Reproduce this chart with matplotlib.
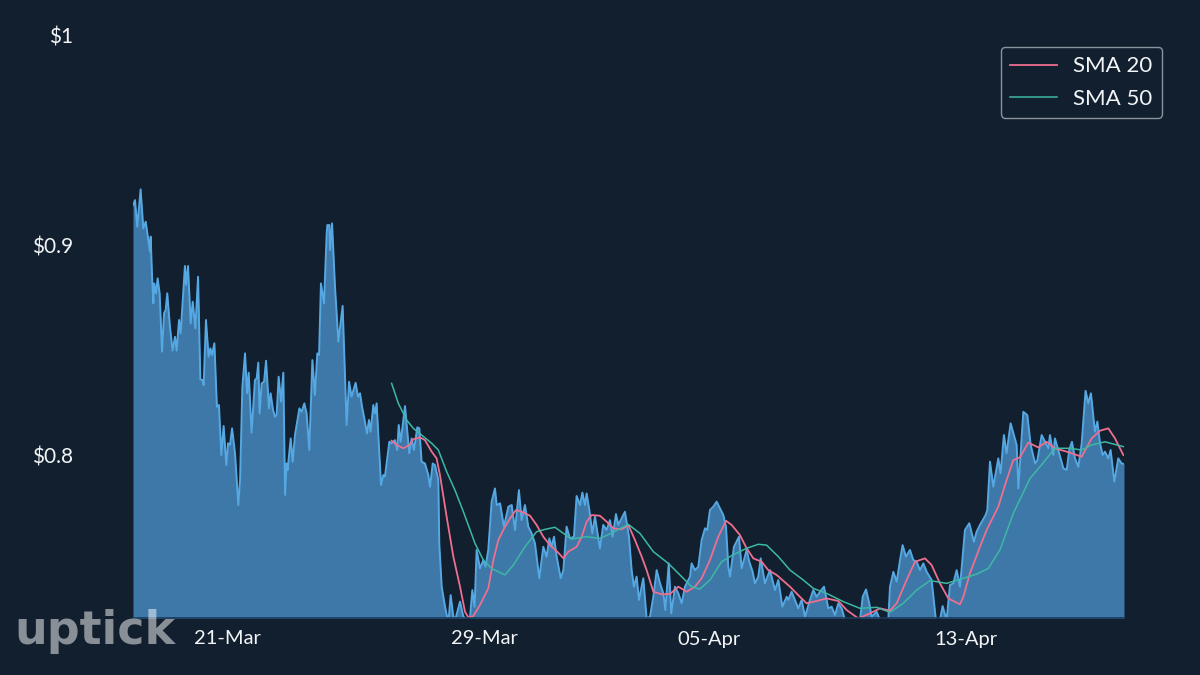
import matplotlib
matplotlib.use("Agg")
import matplotlib.pyplot as plt
import matplotlib.dates as mdates
import numpy as np
import pandas as pd

# Data: hours since the first sample, and price in $
price_hours = [
    0, 1.5, 3.2, 5.7, 7.7, 9.5, 10.7, 12.7, 13.2, 14.2, 15.2, 15.9, 17.2, 18.4, 19.9, 21.7, 23.2, 24.4, 25.6, 27.6,
    29.6, 31.4, 32.6, 34.4, 35.6, 38.8, 39.6, 41.1, 43.1, 44.6, 46.6, 48.6, 50.3, 52.0, 52.8, 54.5, 56.5, 57.8, 59.0, 60.8,
    62.7, 64.2, 66.0, 67.7, 69.7, 71.0, 72.5, 74.0, 76.2, 78.7, 80.0, 81.7, 83.7, 85.2, 86.4, 88.6, 91.1, 92.4, 93.6, 94.6,
    96.1, 97.9, 99.4, 101.6, 102.8, 104.6, 106.1, 107.3, 108.8, 110.6, 112.3, 113.6, 114.8, 115.5, 117.8, 119.3, 121.0, 124.3, 126.0, 128.0,
    129.7, 131.7, 134.0, 135.9, 137.7, 139.0, 140.4, 142.7, 144.7, 145.2, 146.7, 147.2, 148.7, 150.9, 153.4, 156.6, 159.6, 161.4, 163.3, 166.3,
    168.1, 169.6, 171.1, 172.8, 174.8, 176.3, 177.5, 179.5, 180.8, 182.0, 185.3, 187.0, 188.2, 191.5, 193.2, 195.7, 197.4, 198.5, 200.0, 203.2,
    206.4, 208.2, 209.9, 212.4, 213.9, 215.6, 218.1, 220.6, 221.9, 223.9, 225.6, 228.1, 228.8, 230.6, 233.1, 235.6, 237.3, 239.3, 241.0, 244.3,
    246.8, 250.5, 251.7, 253.5, 255.2, 256.7, 259.2, 261.7, 263.4, 265.4, 267.9, 270.4, 271.7, 274.2, 277.1, 280.4, 282.9, 285.4, 288.3, 290.3,
    292.8, 295.3, 297.8, 300.3, 303.5, 306.5, 309.0, 311.0, 312.7, 314.5, 316.5, 319.5, 321.5, 323.9, 326.4, 329.4, 331.4, 333.9, 335.7, 337.6,
    338.9, 340.9, 343.1, 345.1, 348.8, 351.3, 353.8, 356.3, 358.3, 360.8, 362.5, 365.0, 367.5, 370.5, 372.5, 374.2, 376.2, 378.0, 381.2, 383.7,
    386.2, 388.7, 391.2, 393.7, 396.2, 397.7, 400.2, 402.1, 404.9, 407.4, 409.9, 412.3, 416.1, 417.3, 419.8, 422.3, 424.8, 427.3, 429.0, 431.0,
    433.5, 436.0, 438.5, 441.0, 443.0, 444.7, 446.0, 448.9, 452.7, 454.7, 458.4, 460.4, 462.9, 464.6, 467.1, 468.9, 472.1, 475.8, 479.6, 482.1,
    485.1, 488.3, 489.5, 492.0, 494.5, 497.0, 499.5, 502.0, 505.7, 508.2, 510.7, 513.2, 516.2, 519.4, 521.9, 524.4, 526.9, 529.4, 531.9, 543.1,
    545.1, 547.6, 550.0, 551.8, 555.5, 558.0, 564.2, 565.5, 568.0, 570.5, 573.0, 574.9, 577.4, 580.4, 582.9, 585.4, 587.9, 590.4, 592.9, 596.6,
    599.8, 602.8, 604.8, 607.8, 610.3, 612.8, 615.3, 617.8, 621.5, 624.7, 628.2, 630.2, 632.7, 636.9, 638.2, 640.2, 642.7, 646.4, 648.1, 650.6,
    652.6, 655.6, 660.1, 661.4, 665.1, 668.1, 670.6, 673.9, 675.6, 678.8, 681.3, 683.8, 685.0, 687.5, 688.7, 691.2, 695.0, 697.5, 699.4, 701.4,
    703.7, 706.2, 708.7, 711.6, 713.6, 715.6, 718.6, 720.4, 722.4, 724.4, 726.1, 728.6, 730.3, 733.1, 736.0, 738.5, 740.3,
]
price_values = [
    .9190, .9214, .9087, .9265, .9079, .9111, .9056, .8968, .9040, .8857, .8722, .8817, .8770, .8841, .8770, .8492, .8675, .8690, .8770, .8611,
    .8497, .8563, .8497, .8643, .8579, .8900, .8810, .8900, .8627, .8730, .8603, .8849, .8360, .8357, .8333, .8643, .8468, .8508, .8476, .8532,
    .8230, .8238, .8000, .8138, .7952, .8056, .8048, .8127, .8008, .7762, .7881, .8325, .8484, .8294, .8392, .8106, .8357, .8365, .8440, .8198,
    .8341, .8349, .8449, .8222, .8294, .8214, .8183, .8190, .8373, .8254, .8392, .7810, .7960, .7929, .8079, .7968, .8095, .8222, .8206, .8246,
    .8198, .8024, .8452, .8286, .8484, .8476, .8817, .8722, .9056, .9095, .9095, .8976, .9103, .8802, .8540, .8710, .8143, .8349, .8278, .8344,
    .8278, .8294, .8230, .8175, .8103, .8167, .8111, .8238, .8198, .8246, .7857, .7905, .7897, .8063, .8056, .8071, .8024, .8143, .8063, .8233,
    .8008, .8079, .8024, .8132, .8127, .7968, .7960, .7905, .7849, .7960, .7952, .7881, .7579, .7373, .7278, .7200, .7333, .7230, .7222, .7302,
    .7230, .7214, .7222, .7357, .7278, .7548, .7460, .7500, .7468, .7548, .7778, .7841, .7762, .7770, .7659, .7754, .7762, .7643, .7833, .7690,
    .7762, .7659, .7627, .7579, .7413, .7563, .7516, .7603, .7563, .7611, .7516, .7413, .7452, .7659, .7603, .7611, .7805, .7762, .7821, .7762,
    .7817, .7738, .7627, .7706, .7556, .7667, .7643, .7690, .7611, .7719, .7667, .7698, .7730, .7611, .7452, .7373, .7421, .7310, .7413, .7222,
    .7230, .7325, .7452, .7389, .7341, .7262, .7484, .7246, .7373, .7341, .7294, .7373, .7421, .7484, .7452, .7468, .7595, .7651, .7643, .7738,
    .7754, .7778, .7746, .7714, .7659, .7468, .7421, .7563, .7611, .7460, .7548, .7492, .7444, .7389, .7421, .7508, .7389, .7452, .7357, .7405,
    .7278, .7325, .7310, .7349, .7310, .7270, .7310, .7230, .7310, .7357, .7325, .7349, .7373, .7270, .7278, .7238, .7294, .7270, .7214, .7214,
    .7325, .7360, .7294, .7230, .7254, .7214, .7214, .7373, .7444, .7397, .7500, .7571, .7516, .7548, .7500, .7492, .7452, .7484, .7444, .7405,
    .7214, .7214, .7281, .7214, .7381, .7389, .7452, .7373, .7643, .7675, .7587, .7635, .7667, .7714, .7738, .7968, .7849, .7984, .7913, .8095,
    .8008, .8151, .8048, .7841, .8206, .8190, .8048, .7960, .7976, .8095, .8063, .8032, .8095, .8000, .8079, .8024, .7937, .7929, .8024, .8063,
    .7984, .7944, .8056, .8306, .8246, .8294, .8111, .8159, .8056, .8000, .8016, .7984, .8024, .7873, .7984, .7960, .7957,
]

sma20_hours = [
    193.2, 197.0, 201.9, 206.4, 209.4, 214.4, 218.1, 223.1, 226.8, 229.3, 234.3, 239.3, 244.3, 248.0, 250.5, 254.2, 259.2, 265.4, 269.2, 272.9,
    276.6, 281.6, 286.1, 290.3, 296.6, 301.5, 306.5, 311.5, 317.7, 321.5, 325.2, 331.4, 335.2, 338.9, 342.6, 348.8, 353.8, 358.8, 365.0, 370.0,
    375.0, 380.0, 383.7, 388.7, 394.9, 401.1, 407.4, 413.6, 419.8, 424.8, 431.0, 437.2, 443.0, 447.2, 453.4, 458.4, 463.4, 469.6, 474.6, 480.8,
    490.8, 498.2, 503.2, 510.7, 518.2, 526.9, 533.1, 541.8, 550.5, 558.0, 565.5, 570.5, 577.9, 584.2, 591.6, 596.6, 602.8, 609.1, 617.8, 620.3,
    625.2, 632.7, 637.7, 646.4, 652.6, 657.6, 662.6, 668.8, 676.3, 682.5, 688.7, 697.5, 708.7, 716.1, 722.4, 728.6, 733.6, 739.8,
]
sma20_values = [
    .8068, .8048, .8032, .8048, .8075, .8084, .8071, .8016, .7984, .7905, .7706, .7516, .7373, .7254, .7227, .7233, .7286, .7365, .7500, .7595,
    .7643, .7698, .7738, .7730, .7711, .7667, .7611, .7571, .7535, .7508, .7540, .7563, .7611, .7683, .7714, .7711, .7683, .7651, .7646, .7667,
    .7595, .7516, .7452, .7349, .7337, .7338, .7373, .7349, .7373, .7413, .7500, .7611, .7687, .7667, .7619, .7556, .7508, .7492, .7452, .7429,
    .7373, .7325, .7294, .7305, .7317, .7305, .7262, .7222, .7246, .7270, .7259, .7294, .7405, .7492, .7508, .7476, .7389, .7317, .7289, .7325,
    .7437, .7563, .7643, .7754, .7881, .7976, .7989, .8059, .8036, .8063, .8032, .8016, .7992, .8079, .8116, .8127, .8079, .8000,
]

sma50_hours = [
    193.2, 198.2, 204.4, 209.4, 215.6, 223.1, 228.1, 234.3, 240.5, 246.8, 255.5, 261.7, 267.9, 277.9, 284.1, 292.8, 301.5, 307.8, 315.2, 321.5,
    327.7, 338.9, 348.8, 358.8, 370.0, 378.7, 388.7, 399.9, 408.6, 417.3, 423.5, 431.0, 439.7, 447.2, 458.4, 467.1, 473.3, 482.1, 490.8, 500.7,
    508.2, 518.2, 530.6, 543.1, 555.5, 565.5, 575.4, 585.4, 595.4, 607.8, 620.3, 630.2, 638.9, 647.6, 657.6, 670.1, 677.5, 688.7, 699.9, 708.7,
    716.1, 726.1, 739.8,
]
sma50_values = [
    .8341, .8246, .8167, .8127, .8095, .8056, .8024, .7921, .7833, .7730, .7579, .7500, .7460, .7429, .7476, .7563, .7635, .7646, .7656, .7627,
    .7600, .7611, .7603, .7632, .7670, .7627, .7540, .7484, .7429, .7373, .7362, .7405, .7492, .7521, .7556, .7575, .7571, .7516, .7452, .7405,
    .7365, .7341, .7302, .7270, .7275, .7251, .7294, .7357, .7402, .7389, .7413, .7433, .7460, .7548, .7722, .7889, .7944, .8032, .8032, .8024,
    .8048, .8063, .8040,
]

start = pd.Timestamp("2021-03-18 01:48")
tick_dates = ["2021-03-21", "2021-03-29", "2021-04-05", "2021-04-13"]
price_ticks = [0.8, 0.9, 1.0]
price_labels = ["$0.8", "$0.9", "$1"]


def to_dates(hours):
    return start + pd.to_timedelta(np.array(hours), unit="h")


bg = "#121f2e"
plt.rcParams["font.family"] = ["Lato", "DejaVu Sans"]

fig = plt.figure(figsize=(12, 6.75), dpi=100, facecolor=bg)
ax = fig.add_axes([133 / 1200, 1 - 618 / 675, 991 / 1200, 583 / 675], facecolor=bg)

x = to_dates(price_hours)
ax.fill_between(x, price_values, 0.7, color="#3d78a8", linewidth=0)
ax.plot(x, price_values, color="#56a8e2", linewidth=1.4)
ax.plot(to_dates(sma20_hours), sma20_values, color="#ee6f90", linewidth=1.3, label="SMA 20", solid_joinstyle="round")
ax.plot(to_dates(sma50_hours), sma50_values, color="#3db8a4", linewidth=1.1, label="SMA 50", solid_joinstyle="round")

ax.set_xlim(start, to_dates([740.3])[0])
ax.set_ylim(0.7224, 1.0)
ax.set_yticks(price_ticks)
ax.set_yticklabels(price_labels)
ax.set_xticks(pd.to_datetime(tick_dates))
ax.xaxis.set_major_formatter(mdates.DateFormatter("%d-%b"))
ax.tick_params(axis="x", length=0, pad=9, labelsize=14.5, labelcolor="#f2f5f7")
ax.tick_params(axis="y", length=0, pad=43, labelsize=15, labelcolor="#f2f5f7")
for side in ["top", "right", "left"]:
    ax.spines[side].set_visible(False)
ax.spines["bottom"].set_color("#1b3a5a")
ax.spines["bottom"].set_linewidth(1.2)

leg = ax.legend(loc="upper right", bbox_to_anchor=(1029 / 991, 1 - 12 / 583), borderaxespad=0,
                fontsize=16, labelcolor="#f2f5f7", facecolor=bg, edgecolor="#8a949e",
                framealpha=1, handlelength=2.1, handletextpad=0.75, borderpad=0.42, labelspacing=0.55, fancybox=True)
leg.get_frame().set_linewidth(1)

fig.text(14 / 1200, 1 - 644 / 675, "uptick", color="#ffffff", alpha=0.5, fontsize=33,
         fontweight="bold", family="DejaVu Sans", va="baseline", ha="left")

fig.savefig("out.png", dpi=100, facecolor=bg)
